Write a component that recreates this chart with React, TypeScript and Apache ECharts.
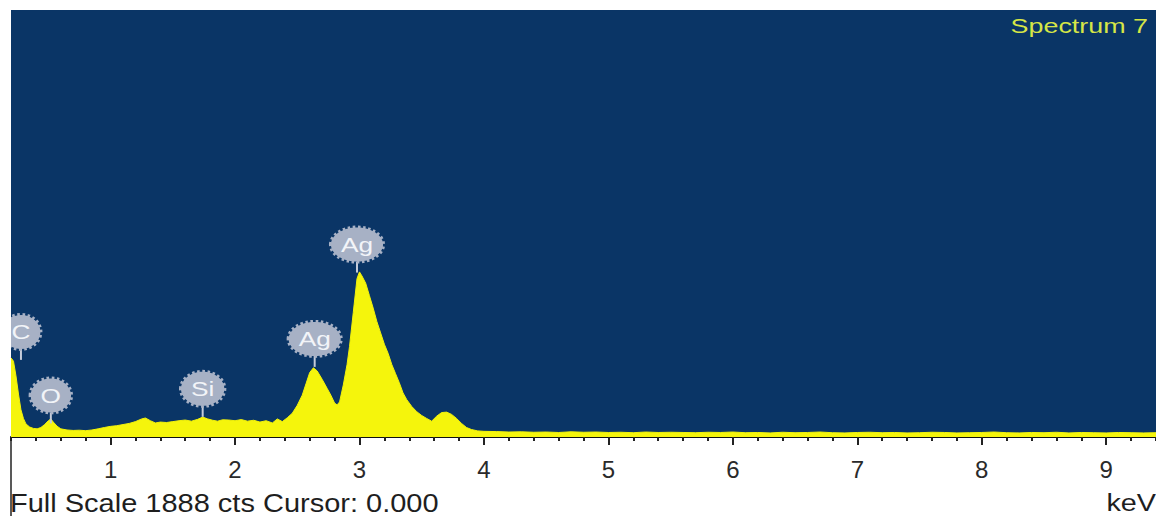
import React, { useEffect, useRef } from "react";
import * as echarts from "echarts";

// Spectrum data (keV, counts)
const energyKeV = [
  0.2, 0.22, 0.24, 0.26, 0.28, 0.3, 0.32, 0.35, 0.38, 0.41, 0.44, 0.47, 0.5, 0.52, 0.54, 0.57, 0.6, 0.65, 0.7, 0.75,
  0.8, 0.85, 0.9, 0.95, 1.0, 1.05, 1.1, 1.15, 1.2, 1.25, 1.28, 1.32, 1.36, 1.4, 1.45, 1.5, 1.55, 1.6, 1.65, 1.7,
  1.74, 1.78, 1.82, 1.86, 1.9, 1.95, 2.0, 2.05, 2.1, 2.15, 2.2, 2.25, 2.3, 2.34, 2.38, 2.42, 2.46, 2.5, 2.54, 2.57,
  2.6, 2.63, 2.66, 2.7, 2.74, 2.77, 2.8, 2.82, 2.84, 2.87, 2.9, 2.92, 2.95, 2.98, 3.0, 3.02, 3.05, 3.08, 3.11, 3.14,
  3.17, 3.2, 3.23, 3.26, 3.29, 3.32, 3.35, 3.38, 3.42, 3.46, 3.5, 3.54, 3.58, 3.62, 3.66, 3.7, 3.74, 3.78, 3.82, 3.86,
  3.9, 3.95, 4.0, 4.1, 4.2, 4.3, 4.4, 4.5, 4.6, 4.7, 4.8, 4.9, 5.0, 5.1, 5.2, 5.3, 5.4, 5.5, 5.6, 5.7,
  5.8, 5.9, 6.0, 6.1, 6.2, 6.3, 6.4, 6.5, 6.6, 6.7, 6.8, 6.9, 7.0, 7.1, 7.2, 7.3, 7.4, 7.5, 7.6, 7.7,
  7.8, 7.9, 8.0, 8.1, 8.2, 8.3, 8.4, 8.5, 8.6, 8.7, 8.8, 8.9, 9.0, 9.1, 9.2, 9.3, 9.4,
];
const counts = [
  350, 335, 270, 190, 120, 82, 58, 44, 38, 36, 42, 55, 72, 80, 66, 48, 36, 31, 29, 30,
  28, 31, 36, 42, 47, 50, 55, 60, 68, 80, 84, 72, 62, 66, 64, 68, 72, 75, 70, 78,
  88, 80, 74, 70, 76, 75, 72, 77, 70, 74, 66, 72, 62, 80, 68, 85, 105, 140, 185, 235,
  285, 306, 292, 255, 215, 185, 150, 142, 155, 230, 320, 400, 550, 700, 730, 712, 680, 625, 570, 510,
  460, 410, 370, 320, 280, 240, 195, 165, 135, 112, 95, 82, 70, 92, 108, 110, 100, 82, 60, 42,
  33, 27, 25, 24, 22, 23, 21, 22, 20, 23, 21, 22, 20, 21, 19, 22, 20, 21, 20, 19,
  21, 20, 22, 19, 20, 18, 21, 19, 20, 22, 19, 18, 20, 21, 19, 20, 18, 19, 21, 20,
  18, 19, 20, 22, 19, 18, 20, 19, 21, 18, 20, 19, 18, 20, 19, 18, 19,
];

// Element markers
const elementNames = ["C", "O", "Si", "Ag", "Ag"];
const elementKeV = [0.28, 0.52, 1.74, 2.64, 2.98];
const elementTipCounts = [341, 60, 89, 310, 727];

// Axis
const majorTicks = [1, 2, 3, 4, 5, 6, 7, 8, 9];
const fullScaleCts = 1888;
const cursorText = "0.000";
const spectrumTitle = "Spectrum 7";

const charWidth = (ch: string) => {
  if (ch === "i" || ch === "l") return 0.222;
  if (ch === ch.toUpperCase()) return ch === "C" ? 0.722 : ch === "O" ? 0.778 : 0.667;
  return 0.556;
};

export default function App() {
  const ref = useRef<HTMLDivElement>(null);
  useEffect(() => {
    if (!ref.current) return;
    const chart = echarts.init(ref.current, undefined, { renderer: "svg" });
    const font = "Liberation Sans, Arial, sans-serif";
    chart.setOption({
      animation: false,
      backgroundColor: "#ffffff",
      grid: {
        left: 11,
        right: 0,
        top: 10,
        bottom: 79,
        show: true,
        backgroundColor: "#0a3566",
        borderWidth: 0,
      },
      xAxis: [
        {
          type: "value",
          min: 0.2,
          max: 9.4,
          position: "bottom",
          axisLine: { show: true, lineStyle: { color: "#111", width: 2 } },
          axisTick: { show: true, customValues: majorTicks, length: 8, lineStyle: { color: "#222", width: 2 } },
          axisLabel: {
            show: true,
            customValues: majorTicks,
            margin: 20,
            fontSize: 24,
            fontFamily: font,
            color: "#2a2a2a",
          },
          splitLine: { show: false },
        },
        {
          type: "value",
          min: 0.2,
          max: 9.4,
          interval: 0.2,
          position: "bottom",
          axisLine: { show: false },
          axisTick: { show: true, length: 4, lineStyle: { color: "#222", width: 2 } },
          axisLabel: { show: false },
          splitLine: { show: false },
        },
      ],
      yAxis: {
        type: "value",
        min: 0,
        max: fullScaleCts,
        show: false,
      },
      series: [
        {
          type: "line",
          xAxisIndex: 0,
          data: energyKeV.map((e, i) => [e, counts[i]]),
          showSymbol: false,
          symbol: "none",
          lineStyle: { color: "#f2f20a", width: 1 },
          areaStyle: { color: "#f5f50c", opacity: 1 },
          clip: true,
          z: 2,
        },
        {
          type: "custom",
          xAxisIndex: 0,
          clip: true,
          z: 3,
          data: elementKeV.map((e, i) => [e, elementTipCounts[i]]),
          encode: { x: 0, y: 1 },
          renderItem: (params: any, api: any) => {
            const name = elementNames[params.dataIndex];
            const p = api.coord([api.value(0), api.value(1)]);
            const cx = p[0];
            const tipY = p[1];
            const cy = tipY - 28;
            const ry = 17;
            let w = 0;
            for (const ch of name) w += charWidth(ch);
            const rx = Math.max(19, (w * 21 * 1.25) / 2 + 10);
            return {
              type: "group",
              children: [
                {
                  type: "line",
                  shape: { x1: cx, y1: tipY, x2: cx, y2: cy + ry },
                  style: { stroke: "#c5ccda", lineWidth: 2 },
                },
                {
                  type: "ellipse",
                  shape: { cx, cy, rx, ry },
                  style: { fill: "#a7b1c5", stroke: "#a7b1c5", lineWidth: 4, lineDash: [2.5, 2.5] },
                },
                {
                  type: "text",
                  x: cx,
                  y: cy,
                  scaleX: 1.25,
                  style: {
                    text: name,
                    fill: "#f2f4f8",
                    fontSize: 21,
                    fontFamily: font,
                    align: "center",
                    verticalAlign: "middle",
                  },
                },
              ],
            };
          },
        },
      ],
      graphic: [
        {
          type: "line",
          shape: { x1: 11, y1: 437, x2: 11, y2: 516 },
          style: { stroke: "#222", lineWidth: 1.5 },
        },
        {
          type: "text",
          x: 10,
          y: 503,
          scaleX: 1.16,
          style: {
            text: `Full Scale ${fullScaleCts} cts Cursor: ${cursorText}`,
            fill: "#1e1e1e",
            fontSize: 25,
            fontFamily: font,
            align: "left",
            verticalAlign: "middle",
          },
        },
        {
          type: "text",
          x: 1156,
          y: 503,
          scaleX: 1.2,
          style: {
            text: "keV",
            fill: "#1e1e1e",
            fontSize: 24,
            fontFamily: font,
            align: "right",
            verticalAlign: "middle",
          },
        },
        {
          type: "text",
          x: 1148,
          y: 26,
          scaleX: 1.28,
          style: {
            text: spectrumTitle,
            fill: "#d6e646",
            fontSize: 21,
            fontFamily: font,
            align: "right",
            verticalAlign: "middle",
          },
        },
      ],
    });
    return () => chart.dispose();
  }, []);
  return (
    <div
      ref={ref}
      style={{ position: "fixed", left: 0, top: 0, width: 1156, height: 516 }}
    />
  );
}
